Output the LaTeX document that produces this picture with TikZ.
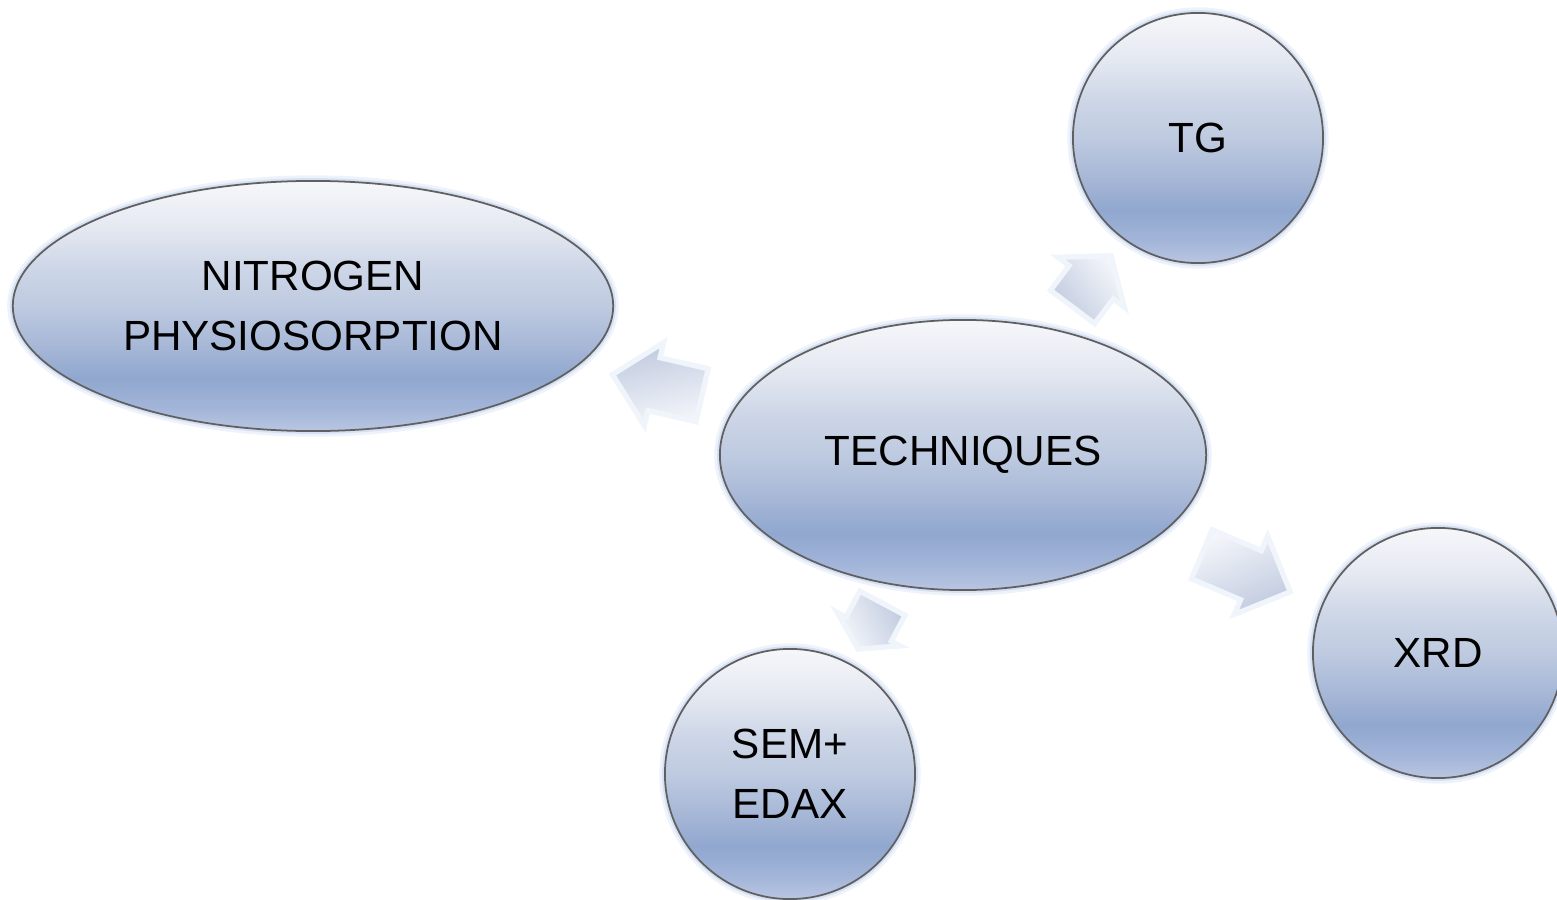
\documentclass[tikz,border=0pt]{standalone}
\usepackage{fontspec}
\setmainfont{Liberation Sans}
\usetikzlibrary{shapes.geometric,shapes.arrows,calc}

% bubble fill: pale at the top, deepest blue near the bottom, lighter rim
\definecolor{bubA}{HTML}{B9C6E1}
\definecolor{bubB}{HTML}{A3B5D9}
\definecolor{bubC}{HTML}{90A7CF}
\definecolor{bubD}{HTML}{A5B6D6}
\definecolor{bubE}{HTML}{BECAE0}
\definecolor{bubF}{HTML}{CDD6E7}
\definecolor{bubG}{HTML}{E4E8F1}
\definecolor{bubH}{HTML}{F6F7FA}
\pgfdeclareverticalshading{bubble}{100bp}{%
  color(0bp)=(bubA); color(25bp)=(bubA); color(29.5bp)=(bubB);
  color(35.5bp)=(bubC); color(41.5bp)=(bubD); color(50bp)=(bubE);
  color(57.5bp)=(bubF); color(65.5bp)=(bubG); color(75bp)=(bubH);
  color(100bp)=(bubH)}

\definecolor{haloout}{HTML}{EEF3FB}
\definecolor{haloin}{HTML}{D6E1F3}
\definecolor{rim}{HTML}{606060}
\definecolor{arrtop}{HTML}{F4F6FA}
\definecolor{arrbot}{HTML}{C0CADF}
\definecolor{arrhalo}{HTML}{F0F4FB}

\tikzset{
  bubblebox/.style={shading=bubble, draw=rim, line width=0.5pt,
    inner sep=0pt, align=center, text=black,
    font=\fontsize{12}{17}\selectfont,
    preaction={draw=haloout, line width=3.2pt},
    preaction={draw=haloin, line width=1.6pt}},
  ovalbox/.style={bubblebox, ellipse},
  roundbox/.style={bubblebox, circle, minimum size=2.5cm},
  % block arrow: #1 = direction, shaft width comes from inner ysep
  blockarr/.style={single arrow, inner xsep=0pt, draw=arrhalo,
    line width=1.5pt, top color=arrtop, bottom color=arrbot,
    rotate=#1, shading angle=-#1}
}

\begin{document}
\begin{tikzpicture}[x=0.01cm, y=-0.01cm]
\useasboundingbox (0,0) rectangle (1557,900);

% the five bubbles
\node[ovalbox, minimum width=6cm, minimum height=2.5cm] (nit) at (313,306)
  {NITROGEN\\PHYSIOSORPTION};
\node[ovalbox, minimum width=4.86cm, minimum height=2.7cm] (tech) at (963,455)
  {TECHNIQUES};
\node[roundbox] (tg) at (1198,138) {TG};
\node[roundbox] (xrd) at (1438,653) {XRD};
\node[roundbox] (sem) at (790,774) {SEM+\\EDAX};

% block arrows pointing out of the centre bubble
\node[blockarr=167, minimum height=0.92cm, inner ysep=0.245cm,
  single arrow head extend=0.155cm] (toNit) at ($(tech.center)!0.45!(nit.center)$) {};
\node[blockarr=53, minimum height=0.64cm, inner ysep=0.25cm,
  single arrow head extend=0.14cm, single arrow tip angle=103]
  (toTg) at ($(tech.center)!0.52!(tg.center)$) {};
\node[blockarr=-23, minimum height=0.96cm, inner ysep=0.24cm,
  single arrow head extend=0.16cm] (toXrd) at ($(tech.center)!0.57!(xrd.center)$) {};
\node[blockarr=-118, minimum height=0.52cm, inner ysep=0.23cm,
  single arrow head extend=0.1cm, single arrow tip angle=115]
  (toSem) at ($(tech.center)!0.514!(sem.center)$) {};
\end{tikzpicture}
\end{document}
